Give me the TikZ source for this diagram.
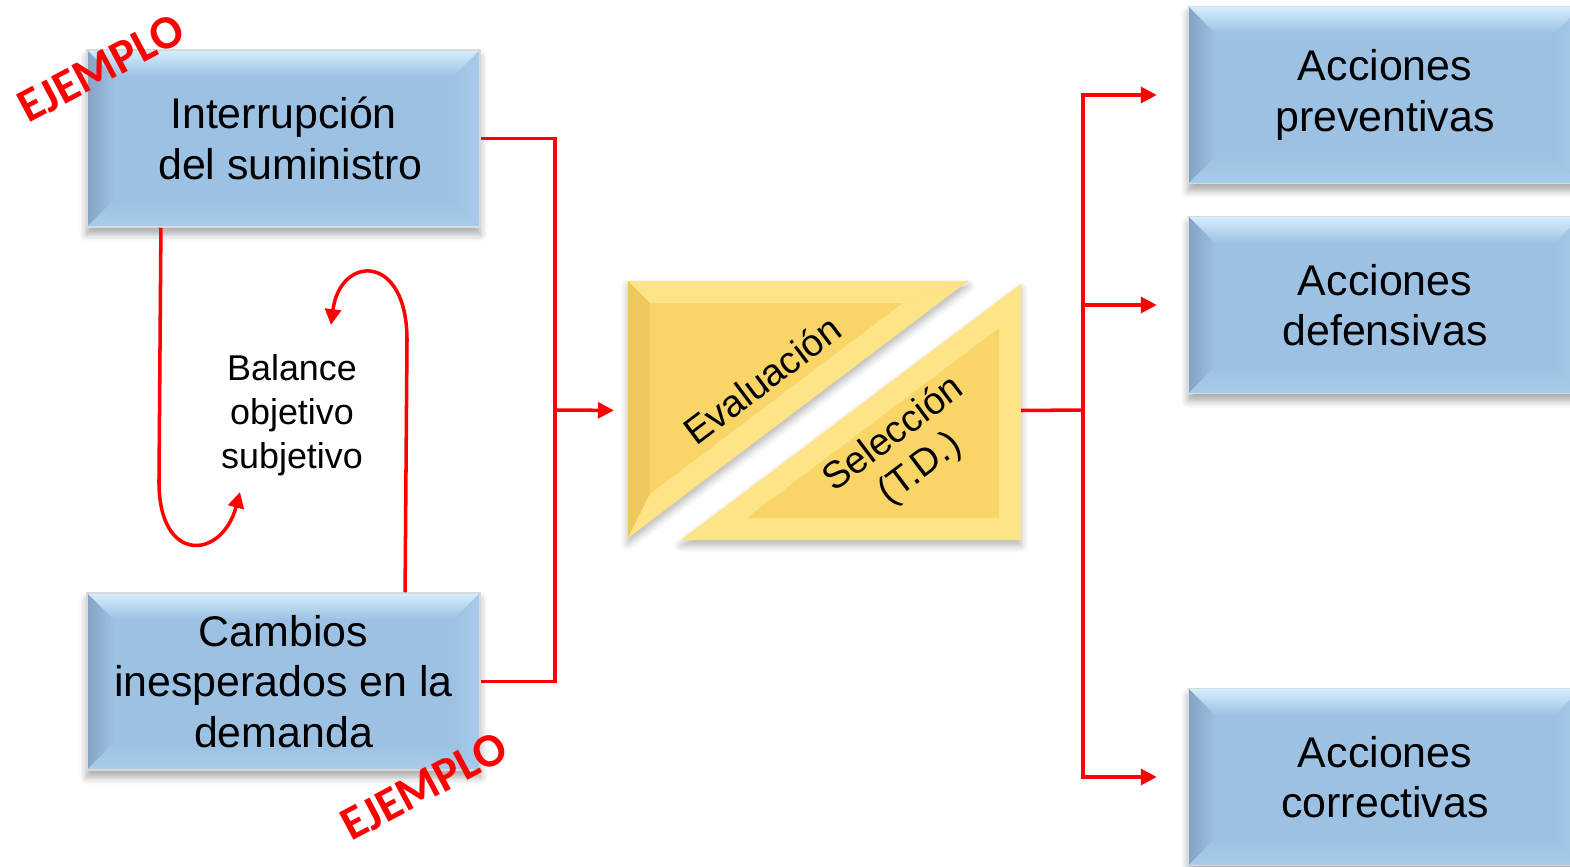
\documentclass[tikz,border=0pt]{standalone}
\usepackage{fontspec}
\setmainfont{Liberation Sans}
\newfontfamily\ejfont{Carlito}
\usetikzlibrary{arrows.meta,shadows.blur}

\definecolor{boxblue}{RGB}{157,193,227}
\definecolor{bevlight}{RGB}{212,238,253}
\definecolor{bevdark}{RGB}{132,162,196}
\definecolor{bevside}{RGB}{170,204,235}
\definecolor{gold}{RGB}{249,213,104}
\definecolor{goldlight}{RGB}{252,228,135}
\definecolor{golddark}{RGB}{238,199,94}

\tikzset{
  bevel/.style={path picture={
    \path (path picture bounding box.north west) coordinate (p1)
          (path picture bounding box.north east) coordinate (p2)
          (path picture bounding box.south east) coordinate (p3)
          (path picture bounding box.south west) coordinate (p4);
    \path ([shift={(#1,-#1)}]p1) coordinate (q1) ([shift={(-#1,-#1)}]p2) coordinate (q2)
          ([shift={(-#1,#1)}]p3) coordinate (q3) ([shift={(#1,#1)}]p4) coordinate (q4);
    \shade[top color=bevlight, bottom color=boxblue] (p1) -- (p2) -- (q2) -- (q1) -- cycle;
    \shade[left color=bevdark, right color=boxblue] (p1) -- (q1) -- (q4) -- (p4) -- cycle;
    \shade[left color=boxblue, right color=bevside] (p2) -- (p3) -- (q3) -- (q2) -- cycle;
    \shade[top color=boxblue, bottom color=bevside] (p4) -- (q4) -- (q3) -- (p3) -- cycle;
  }},
  actbox/.style={rectangle, draw=gray!30, line width=.4pt, fill=boxblue,
    minimum width=3.93cm, minimum height=1.77cm, inner sep=0pt, align=center,
    font=\fontsize{12.2}{14.3}\selectfont, bevel=.27cm,
    blur shadow={shadow xshift=0pt, shadow yshift=-2pt, shadow opacity=35, shadow blur steps=6}},
  redline/.style={red, line width=1pt},
  redarrow/.style={redline, -{Triangle[length=4.5pt,width=4.5pt]}},
  ejemplo/.style={red, font=\ejfont\bfseries\fontsize{13.5}{15}\selectfont, rotate=28},
  trishadow/.style={blur shadow={shadow xshift=0pt, shadow yshift=-1.5pt, shadow opacity=30, shadow blur steps=6}},
}

\begin{document}
\begin{tikzpicture}[x=0.01cm, y=-0.01cm]
\useasboundingbox (0,0) rectangle (1570,867);

% evaluation / selection block
\fill[golddark, trishadow] (628,281) -- (968,281) -- (628,538) -- cycle;
\fill[goldlight] (628,281) -- (968,281) -- (902.3,303) -- (650,303) -- cycle;
\fill[goldlight] (968,281) -- (628,538) -- (650,493.7) -- (902.3,303) -- cycle;
\fill[gold] (650,303) -- (902.3,303) -- (650,493.7) -- cycle;
\fill[goldlight, trishadow] (1021,284) -- (1021,540) -- (681,540) -- cycle;
\fill[gold] (999,328.1) -- (999,518) -- (746.7,518) -- cycle;
\node[minimum width=3.93cm, minimum height=2.59cm, inner sep=0pt, outer sep=0pt] (td) at (824.5,410.5) {};
\node[rotate=37, font=\fontsize{10.8}{12}\selectfont] (ev) at (762,380) {Evaluación};
\node[rotate=37, align=center, font=\fontsize{10.8}{12.3}\selectfont] (sel) at (907,452) {Selección\\(T.D.)};

% boxes
\node[actbox] (int) at (283.5,138.5) {Interrupción\\\hspace*{4pt}del suministro};
\node[actbox] (cam) at (283.5,681.5) {Cambios\\inesperados en la\\demanda};
\node[actbox] (pre) at (1385,95) {Acciones\\preventivas};
\node[actbox] (def) at (1385,305) {Acciones\\defensivas};
\node[actbox] (cor) at (1385,777) {Acciones\\correctivas};

\node[align=center, font=\fontsize{10.2}{12.5}\selectfont] (bal) at (292,415) {Balance\\objetivo\\subjetivo};

% connectors
\coordinate (jl) at (555,410);
\coordinate (jr) at (1083,410);
\draw[redline] (int.east) -| (jl) |- (cam.east);
\draw[redarrow, shorten >=4pt] (jl) -- (td.west);
\draw[redline] (td.east) -- (jr);
\foreach \t in {pre,def,cor}
  \draw[redarrow, shorten >=8.8pt] (jr) |- (\t.west);

\coordinate (balin) at (240,492);
\coordinate (balout) at (331,325);
\draw[redarrow] ([xshift=-1.225cm]int.south) -- (159,480) .. controls (158,565) and (222,560) .. (balin);
\draw[redarrow] ([xshift=1.215cm]cam.north) -- (407,340) .. controls (407,252) and (340,255) .. (balout);

\node[ejemplo] (ej1) at (101,68) {EJEMPLO};
\node[ejemplo] (ej2) at (424,786) {EJEMPLO};
\end{tikzpicture}
\end{document}
